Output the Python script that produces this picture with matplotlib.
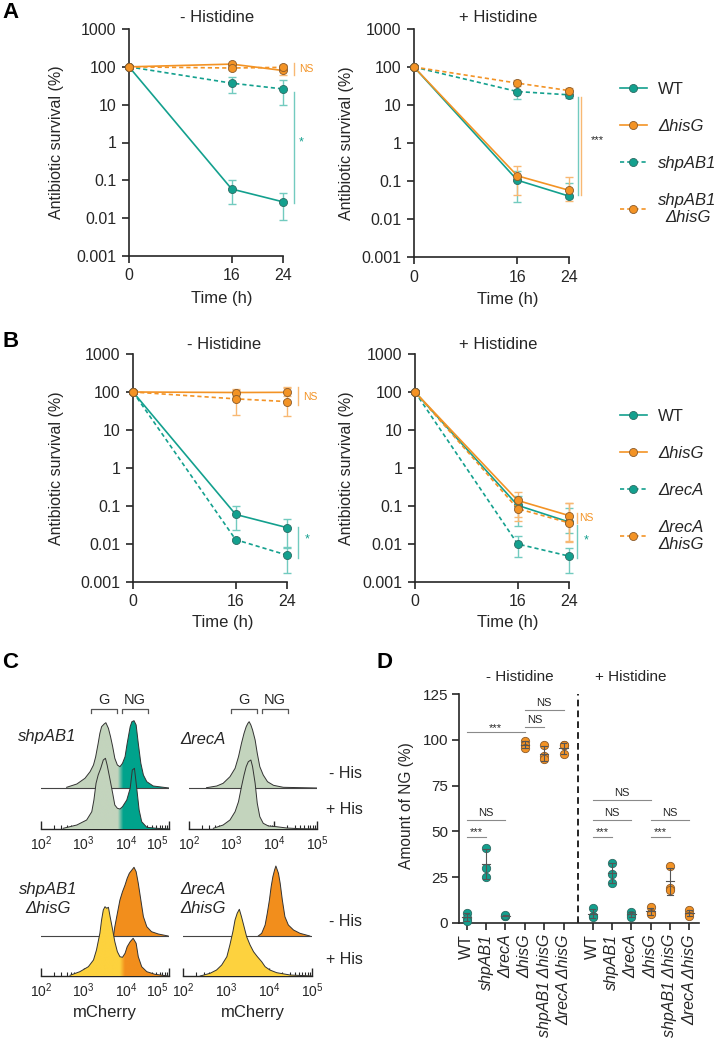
import numpy as np
import matplotlib.pyplot as plt
from matplotlib.colors import LinearSegmentedColormap
from matplotlib.patches import Polygon

plt.rcParams['font.family'] = ['Liberation Sans', 'DejaVu Sans']
plt.rcParams['mathtext.fontset'] = 'custom'
plt.rcParams['mathtext.rm'] = 'Liberation Sans'
plt.rcParams['mathtext.default'] = 'regular'

W, H = 719, 1049
INK = '#262626'
TEAL = '#13a08e'
TEAL_LIGHT = '#72cbbf'
TEAL_EDGE = '#2b6b63'
ORANGE = '#f39325'
ORANGE_LIGHT = '#f8b873'
ORANGE_EDGE = '#8a5a2a'
SAGE = '#c3d4bd'
TEAL_HIST = '#00a38c'
YELLOW = '#fdd23e'
ORANGE_HIST = '#f28e1c'

# ---- survival data (A, B): value, lower bound, upper bound at 0, 16, 24 h
time_h = [0, 16, 24]

a_minus_wt = [100, 0.059, 0.027]
a_minus_wt_lo = [100, 0.023, 0.0087]
a_minus_wt_hi = [100, 0.10, 0.045]
a_minus_his = [100, 118, 80]
a_minus_his_lo = [100, 100, 62]
a_minus_his_hi = [100, 130, 110]
a_minus_shp = [100, 37, 26]
a_minus_shp_lo = [100, 20, 9.6]
a_minus_shp_hi = [100, 54, 44]
a_minus_shphis = [100, 93, 97]
a_minus_shphis_lo = [100, 80, 85]
a_minus_shphis_hi = [100, 108, 110]

a_plus_wt = [100, 0.105, 0.040]
a_plus_wt_lo = [100, 0.028, 0.035]
a_plus_wt_hi = [100, 0.18, 0.09]
a_plus_his = [100, 0.137, 0.057]
a_plus_his_lo = [100, 0.042, 0.030]
a_plus_his_hi = [100, 0.25, 0.125]
a_plus_shp = [100, 22.6, 18.5]
a_plus_shp_lo = [100, 14, 15]
a_plus_shp_hi = [100, 37, 24]
a_plus_shphis = [100, 37.6, 24]
a_plus_shphis_lo = [100, 31, 20]
a_plus_shphis_hi = [100, 46, 28]

b_minus_wt = [100, 0.06, 0.027]
b_minus_wt_lo = [100, 0.023, 0.008]
b_minus_wt_hi = [100, 0.10, 0.046]
b_minus_his = [100, 97, 98]
b_minus_his_lo = [100, 80, 80]
b_minus_his_hi = [100, 120, 125]
b_minus_rec = [100, 0.013, 0.0051]
b_minus_rec_lo = [100, 0.012, 0.0017]
b_minus_rec_hi = [100, 0.014, 0.0084]
b_minus_rechis = [100, 66, 56]
b_minus_rechis_lo = [100, 25, 24]
b_minus_rechis_hi = [100, 115, 135]

b_plus_wt = [100, 0.104, 0.038]
b_plus_wt_lo = [100, 0.03, 0.02]
b_plus_wt_hi = [100, 0.18, 0.09]
b_plus_his = [100, 0.14, 0.056]
b_plus_his_lo = [100, 0.05, 0.012]
b_plus_his_hi = [100, 0.24, 0.12]
b_plus_rec = [100, 0.010, 0.0048]
b_plus_rec_lo = [100, 0.0045, 0.0017]
b_plus_rec_hi = [100, 0.016, 0.0078]
b_plus_rechis = [100, 0.085, 0.036]
b_plus_rechis_lo = [100, 0.04, 0.011]
b_plus_rechis_hi = [100, 0.13, 0.12]

surv_ticks = [0.001, 0.01, 0.1, 1, 10, 100, 1000]
surv_ticklabels = ['0.001', '0.01', '0.1', '1', '10', '100', '1000']

# ---- flow cytometry histograms (C): log10 mCherry, count (a.u.)
c_shp_minus_x = [2.60, 2.84, 3.03, 3.15, 3.23, 3.28, 3.34, 3.38, 3.42, 3.48, 3.52, 3.58, 3.63, 3.68, 3.73, 3.79,
                 3.85, 3.91, 3.97, 4.02, 4.09, 4.13, 4.18, 4.23, 4.28, 4.34, 4.40, 4.48, 4.63, 4.87, 5.0]
c_shp_minus_y = [0.7, 4, 9.7, 16.3, 23, 31, 44.7, 54.7, 61.3, 64, 65.3, 59.7, 51.3, 41.3, 29.7, 23,
                 21.3, 24.7, 31.3, 44.7, 61.3, 66.3, 67.3, 63, 44.7, 24.7, 13, 6.3, 2, 0.7, 0]
c_shp_plus_x = [2.52, 2.84, 3.07, 3.19, 3.24, 3.29, 3.34, 3.40, 3.46, 3.51, 3.55, 3.62, 3.68, 3.73, 3.79, 3.85,
                3.91, 4.01, 4.09, 4.14, 4.19, 4.24, 4.30, 4.36, 4.48, 4.71, 5.0]
c_shp_plus_y = [0.7, 4, 9, 17.3, 29, 45.7, 54, 60.7, 69, 70.7, 64, 49, 35.7, 24, 20.7, 20,
                22.3, 29, 40.7, 59, 60.7, 42.3, 19, 7.3, 1.7, 0.7, 0]
c_rec_minus_x = [2.41, 2.65, 2.80, 2.96, 3.08, 3.16, 3.23, 3.29, 3.34, 3.38, 3.41, 3.45, 3.49, 3.55, 3.60, 3.66,
                 3.74, 3.84, 3.98, 4.21, 5.0]
c_rec_minus_y = [0.3, 2, 4.7, 11.3, 19.7, 31.3, 44.7, 54.7, 61.3, 64.7, 66.3, 63, 58, 48, 34.7, 21.3,
                 13, 6.3, 2.7, 0.7, 0]
c_rec_plus_x = [2.57, 2.80, 2.96, 3.08, 3.16, 3.23, 3.29, 3.34, 3.39, 3.45, 3.49, 3.55, 3.60, 3.66, 3.74, 3.86,
                4.05, 4.29, 4.60, 5.0]
c_rec_plus_y = [0.7, 4, 9, 17.3, 27.3, 42.3, 54, 62.3, 67.3, 69, 62.3, 45.7, 25.7, 12.3, 5.7, 3,
                2.3, 1, 0.3, 0]
c_shphis_minus_x = [3.70, 3.73, 3.79, 3.85, 3.91, 3.97, 4.02, 4.07, 4.13, 4.18, 4.23, 4.28, 4.34, 4.40, 4.48,
                    4.59, 4.75, 4.98]
c_shphis_minus_y = [0, 9.3, 22.7, 36, 44.3, 51, 57.7, 62.7, 66, 68.7, 64.3, 52.7, 36, 19.3, 9.3, 4.3, 2, 0]
c_shphis_plus_x = [2.68, 2.91, 3.11, 3.23, 3.30, 3.38, 3.42, 3.46, 3.50, 3.54, 3.58, 3.62, 3.68, 3.73, 3.79,
                   3.85, 3.91, 3.97, 4.02, 4.09, 4.16, 4.23, 4.28, 4.36, 4.48, 4.67, 4.98]
c_shphis_plus_y = [0.7, 4.3, 9.3, 16, 26, 42.7, 56, 66, 69.3, 67.7, 68.7, 59.3, 46, 34.3, 24.3,
                   19.3, 18.7, 22.7, 29.3, 34.3, 37.7, 32.7, 19.3, 9.3, 4.3, 1.7, 0]
c_rechis_minus_x = [3.75, 3.83, 3.91, 3.96, 4.01, 4.05, 4.09, 4.13, 4.16, 4.22, 4.26, 4.31, 4.37, 4.45, 4.57,
                    4.72, 4.95]
c_rechis_minus_y = [0, 2.7, 11, 22.7, 36, 49.3, 59.3, 66, 70, 62.7, 52.7, 36, 19.3, 11, 6, 2.7, 0]
c_rechis_plus_x = [2.40, 2.63, 2.78, 2.90, 3.02, 3.09, 3.16, 3.21, 3.26, 3.31, 3.36, 3.42, 3.48, 3.56, 3.64,
                   3.73, 3.83, 3.91, 4.02, 4.18, 4.49, 5.0]
c_rechis_plus_y = [0, 2.7, 6, 11, 19.3, 31, 44.3, 56, 62.7, 66.7, 59.3, 49.3, 39.3, 31, 24.3,
                   19.3, 14.3, 9.3, 6, 3.3, 1, 0]

# ---- amount of NG (D)
d_labels = ['WT', 'shpAB1', 'ΔrecA', 'ΔhisG', 'shpAB1 ΔhisG', 'ΔrecA ΔhisG',
            'WT', 'shpAB1', 'ΔrecA', 'ΔhisG', 'shpAB1 ΔhisG', 'ΔrecA ΔhisG']
d_values = [[5.5, 3.0, 1.0], [41, 30, 25], [3.8, 4.0, 4.2], [99.5, 97, 95.5], [97, 91, 89.5], [97, 97, 92],
            [8, 4, 3.5], [33, 27, 22], [6, 4.5, 3.5], [8.5, 5.5, 5], [31, 19, 18], [7, 5, 4]]
d_his_mutant = [False, False, False, True, True, True, False, False, False, True, True, True]
# (from, to, height, label)
d_sig = [(0, 1, 47, '***'), (0, 2, 56, 'NS'), (0, 3, 104, '***'), (3, 4, 107, 'NS'), (3, 5, 116, 'NS'),
         (6, 7, 47, '***'), (6, 8, 56, 'NS'), (6, 9, 67, 'NS'), (9, 11, 56, 'NS'), (9, 10, 47, '***')]

fig = plt.figure(figsize=(W / 100, H / 100), dpi=100)


def px_axes(x0, y0, x1, y1):
    return fig.add_axes([x0 / W, 1 - y1 / H, (x1 - x0) / W, (y1 - y0) / H])


def ftext(x, y, s, **kw):
    kw.setdefault('color', INK)
    fig.text(x / W, 1 - y / H, s, **kw)


def survival_panel(box, series, title_xy, title, xlab_xy, ylab_x):
    ax = px_axes(*box)
    handles = []
    for vals, lo, hi, col, light, edge, dashed in series:
        v = np.array(vals)
        err = [v - np.array(lo), np.array(hi) - v]
        ax.errorbar(time_h, v, yerr=err, fmt='none', ecolor=light, elinewidth=1.0,
                    capsize=3, capthick=1.0, clip_on=False, zorder=2)
        ls = (0, (2.5, 1.8)) if dashed else '-'
        ln, = ax.plot(time_h, v, color=col, ls=ls, lw=1.2, marker='o', ms=5.8, mfc=col,
                      mec=edge, mew=0.6, clip_on=False, zorder=3)
        handles.append(ln)
    ax.set_yscale('log')
    ax.set_ylim(1e-3, 1e3)
    ax.set_xlim(0, 24)
    ax.set_yticks(surv_ticks)
    ax.set_yticklabels(surv_ticklabels)
    ax.minorticks_off()
    ax.set_xticks(time_h)
    for s in ['top', 'right']:
        ax.spines[s].set_visible(False)
    for s in ['left', 'bottom']:
        ax.spines[s].set_linewidth(1.2)
        ax.spines[s].set_color(INK)
    ax.tick_params(length=5, width=1.2, labelsize=11.5, pad=4, colors=INK)
    ax.patch.set_alpha(0)
    ftext(title_xy[0], title_xy[1], title, fontsize=12, ha='center', va='center')
    ftext(xlab_xy[0], xlab_xy[1], 'Time (h)', fontsize=12, ha='center', va='center')
    ftext(ylab_x, (box[1] + box[3]) / 2, 'Antibiotic survival (%)', fontsize=11.5,
          rotation=90, ha='center', va='center')
    return ax, handles


def add_legend(ax, handles, labels, top_y):
    leg = ax.legend(handles, labels, loc='upper left', bbox_to_anchor=(620 / W, 1 - top_y / H),
                    bbox_transform=fig.transFigure, frameon=False, fontsize=12, handlelength=1.6,
                    handletextpad=0.7, labelspacing=1.32, borderpad=0, borderaxespad=0)
    for i, t in enumerate(leg.get_texts()):
        t.set_color(INK)
        if i > 0:
            t.set_fontstyle('italic')
        t.set_multialignment('center')


def vbar(ax, x, y0, y1, col):
    ax.plot([x, x], [y0, y1], color=col, lw=1.0, clip_on=False)


# ---------------- Panel A
ax, hs = survival_panel((129, 29, 283, 256), [
    (a_minus_wt, a_minus_wt_lo, a_minus_wt_hi, TEAL, TEAL_LIGHT, TEAL_EDGE, False),
    (a_minus_shp, a_minus_shp_lo, a_minus_shp_hi, TEAL, TEAL_LIGHT, TEAL_EDGE, True),
    (a_minus_his, a_minus_his_lo, a_minus_his_hi, ORANGE, ORANGE_LIGHT, ORANGE_EDGE, False),
    (a_minus_shphis, a_minus_shphis_lo, a_minus_shphis_hi, ORANGE, ORANGE_LIGHT, ORANGE_EDGE, True),
], (217, 18), '- Histidine', (222, 298), 57)
vbar(ax, 25.7, 61, 126, ORANGE_LIGHT)
ax.text(26.5, 87, 'NS', color=ORANGE, fontsize=7.5, va='center')
vbar(ax, 25.7, 0.025, 21, TEAL_LIGHT)
ax.text(26.5, 1.0, '*', color=TEAL, fontsize=9, va='center')

ax, hs = survival_panel((414, 29, 569, 257), [
    (a_plus_wt, a_plus_wt_lo, a_plus_wt_hi, TEAL, TEAL_LIGHT, TEAL_EDGE, False),
    (a_plus_his, a_plus_his_lo, a_plus_his_hi, ORANGE, ORANGE_LIGHT, ORANGE_EDGE, False),
    (a_plus_shp, a_plus_shp_lo, a_plus_shp_hi, TEAL, TEAL_LIGHT, TEAL_EDGE, True),
    (a_plus_shphis, a_plus_shphis_lo, a_plus_shphis_hi, ORANGE, ORANGE_LIGHT, ORANGE_EDGE, True),
], (498, 18), '+ Histidine', (508, 300), 347)
vbar(ax, 25.4, 0.043, 16, TEAL_LIGHT)
vbar(ax, 25.9, 0.043, 16, ORANGE_LIGHT)
ax.text(27.3, 1.2, '***', color=INK, fontsize=8, va='center')
add_legend(ax, hs, ['WT', 'ΔhisG', 'shpAB1', 'shpAB1\nΔhisG'], 82)

# ---------------- Panel B
ax, hs = survival_panel((133, 354, 287, 582), [
    (b_minus_wt, b_minus_wt_lo, b_minus_wt_hi, TEAL, TEAL_LIGHT, TEAL_EDGE, False),
    (b_minus_rec, b_minus_rec_lo, b_minus_rec_hi, TEAL, TEAL_LIGHT, TEAL_EDGE, True),
    (b_minus_his, b_minus_his_lo, b_minus_his_hi, ORANGE, ORANGE_LIGHT, ORANGE_EDGE, False),
    (b_minus_rechis, b_minus_rechis_lo, b_minus_rechis_hi, ORANGE, ORANGE_LIGHT, ORANGE_EDGE, True),
], (224, 345), '- Histidine', (223, 623), 57)
vbar(ax, 25.7, 46, 135, ORANGE_LIGHT)
ax.text(26.5, 74, 'NS', color=ORANGE, fontsize=7.5, va='center')
vbar(ax, 25.7, 0.0043, 0.028, TEAL_LIGHT)
ax.text(26.8, 0.013, '*', color=TEAL, fontsize=9, va='center')

ax, hs = survival_panel((415, 354, 569, 582), [
    (b_plus_wt, b_plus_wt_lo, b_plus_wt_hi, TEAL, TEAL_LIGHT, TEAL_EDGE, False),
    (b_plus_his, b_plus_his_lo, b_plus_his_hi, ORANGE, ORANGE_LIGHT, ORANGE_EDGE, False),
    (b_plus_rec, b_plus_rec_lo, b_plus_rec_hi, TEAL, TEAL_LIGHT, TEAL_EDGE, True),
    (b_plus_rechis, b_plus_rechis_lo, b_plus_rechis_hi, ORANGE, ORANGE_LIGHT, ORANGE_EDGE, True),
], (498, 345), '+ Histidine', (508, 623), 347)
vbar(ax, 25.2, 0.035, 0.066, ORANGE_LIGHT)
ax.text(25.5, 0.048, 'NS', color=ORANGE, fontsize=7.5, va='center')
vbar(ax, 25.2, 0.0043, 0.031, TEAL_LIGHT)
ax.text(26.3, 0.0126, '*', color=TEAL, fontsize=9, va='center')
add_legend(ax, hs, ['WT', 'ΔhisG', 'ΔrecA', 'ΔrecA\nΔhisG'], 409)


# ---------------- Panel C
def draw_curve(ax, lx, h, base, c1, c2, split, z):
    lx = np.asarray(lx, float)
    h = np.asarray(h, float)
    xs = np.r_[lx[0], lx, lx[-1]]
    ys = np.r_[base, base + h, base]
    poly = Polygon(np.column_stack([xs, ys]), closed=True, ec='none',
                   fc=c1 if split is None else 'none', zorder=z)
    ax.add_patch(poly)
    if split is not None:
        xx = np.linspace(2, 5, 400)
        frac = np.clip((xx - split[0]) / (split[1] - split[0]), 0, 1)
        cmap = LinearSegmentedColormap.from_list('grad', [c1, c2])
        im = ax.imshow(frac[None, :], extent=(2, 5, base, base + 90), aspect='auto', cmap=cmap,
                       vmin=0, vmax=1, origin='lower', zorder=z, interpolation='bilinear')
        im.set_clip_path(poly)
    ax.plot(lx, base + h, color='#333333', lw=0.7, zorder=z + 0.1)


def hist_panel(box, minus, plus, offset, ylim, gates=None, left_col=True):
    ax = px_axes(*box)
    draw_curve(ax, minus[0], minus[1], offset, minus[2], minus[3], minus[4], 1)
    ax.plot([2, 5], [offset, offset], color='#444444', lw=0.8, zorder=1.5)
    draw_curve(ax, plus[0], plus[1], 0, plus[2], plus[3], plus[4], 3)
    ax.set_xlim(2, 5)
    ax.set_ylim(0, ylim)
    for s in ['top', 'right', 'left']:
        ax.spines[s].set_visible(False)
    ax.spines['bottom'].set_color(INK)
    ax.spines['bottom'].set_linewidth(1.0)
    ax.set_yticks([])
    ax.set_xticks([2, 3, 4, 5])
    ax.set_xticklabels(['$10^2$', '$10^3$', '$10^4$', '$10^5$'])
    ax.set_xticks([n + np.log10(k) for n in (2, 3, 4) for k in range(2, 10)], minor=True)
    ax.tick_params(axis='x', which='major', direction='in', length=6, width=1.0, labelsize=10,
                   pad=4, colors=INK)
    ax.tick_params(axis='x', which='minor', direction='in', length=3, width=0.8, colors=INK)
    if left_col:
        # the 10^5 label of the left column sits flush against the next panel's 10^2
        ax.get_xticklabels()[-1].set_horizontalalignment('right')
    ax.patch.set_alpha(0)
    if gates:
        for (g0, g1), lab in zip(gates, ['G', 'NG']):
            ax.plot([g0, g0, g1, g1], [116, 120, 120, 116], color='#555555', lw=0.9, clip_on=False)
            ax.text((g0 + g1) / 2, 129, lab, ha='center', va='center', fontsize=10.5, color=INK)
    return ax


hist_panel((41, 695, 169, 829),
           (c_shp_minus_x, c_shp_minus_y, SAGE, TEAL_HIST, (3.80, 3.93)),
           (c_shp_plus_x, c_shp_plus_y, SAGE, TEAL_HIST, (3.80, 3.93)), 41, 134,
           gates=[(3.17, 3.78), (3.90, 4.51)])
hist_panel((189, 695, 317, 829),
           (c_rec_minus_x, c_rec_minus_y, SAGE, SAGE, None),
           (c_rec_plus_x, c_rec_plus_y, SAGE, SAGE, None), 41, 134,
           gates=[(2.98, 3.59), (3.71, 4.32)], left_col=False)
hist_panel((41, 860, 169, 976),
           (c_shphis_minus_x, c_shphis_minus_y, ORANGE_HIST, ORANGE_HIST, None),
           (c_shphis_plus_x, c_shphis_plus_y, YELLOW, ORANGE_HIST, (3.85, 3.97)), 40, 116)
hist_panel((183, 860, 312, 976),
           (c_rechis_minus_x, c_rechis_minus_y, ORANGE_HIST, ORANGE_HIST, None),
           (c_rechis_plus_x, c_rechis_plus_y, YELLOW, YELLOW, None), 40, 116, left_col=False)

ftext(18, 737, 'shpAB1', fontsize=12, style='italic', va='center')
ftext(180, 739, 'ΔrecA', fontsize=12, style='italic', va='center')
ftext(48, 899, 'shpAB1\nΔhisG', fontsize=12, style='italic', ha='center', va='center',
      multialignment='center', linespacing=1.3)
ftext(180, 899, 'ΔrecA\nΔhisG', fontsize=12, style='italic', ha='left', va='center',
      linespacing=1.3)
ftext(329, 773, '- His', fontsize=11.5, va='center')
ftext(326, 810, '+ His', fontsize=11.5, va='center')
ftext(329, 922, '- His', fontsize=11.5, va='center')
ftext(326, 959, '+ His', fontsize=11.5, va='center')
ftext(105, 1012, 'mCherry', fontsize=12, ha='center', va='center')
ftext(253, 1012, 'mCherry', fontsize=12, ha='center', va='center')

# ---------------- Panel D
ax = px_axes(459, 694, 699, 923)
d_pos = [0, 1, 2, 3, 4, 5, 6.5, 7.5, 8.5, 9.5, 10.5, 11.5]
for p, vals, his in zip(d_pos, d_values, d_his_mutant):
    col = ORANGE if his else TEAL
    edge = ORANGE_EDGE if his else TEAL_EDGE
    ax.plot([p] * len(vals), vals, 'o', ms=6, mfc=col, mec=edge, mew=0.6, zorder=3, clip_on=False)
    m = np.mean(vals)
    sd = np.std(vals, ddof=1)
    ax.plot([p, p], [m - sd, m + sd], color='#555555', lw=0.8, zorder=4)
    for yy, hw in [(m - sd, 0.14), (m + sd, 0.14), (m, 0.22)]:
        ax.plot([p - hw, p + hw], [yy, yy], color='#555555', lw=0.8, zorder=4)
for i0, i1, y, lab in d_sig:
    x0, x1 = d_pos[i0], d_pos[i1]
    ax.plot([x0, x1], [y, y], color='#8a8a8a', lw=0.8)
    if lab == 'NS':
        ax.text((x0 + x1) / 2, y + 1.2, lab, ha='center', va='bottom', fontsize=8, color=INK)
    else:
        ax.text((x0 + x1) / 2, y + 2.6, lab, ha='center', va='center', fontsize=8, color=INK)
ax.axvline(5.75, color='k', lw=1.2, ls=(0, (4, 2.5)))
ax.set_xlim(-0.4, 12.0)
ax.set_ylim(0, 125)
ax.set_yticks([0, 25, 50, 75, 100, 125])
ax.set_xticks(d_pos)
ax.set_xticklabels(d_labels, rotation=90, fontsize=11.5)
for t, lab in zip(ax.get_xticklabels(), d_labels):
    if lab != 'WT':
        t.set_fontstyle('italic')
for s in ['top', 'right']:
    ax.spines[s].set_visible(False)
for s in ['left', 'bottom']:
    ax.spines[s].set_linewidth(1.2)
    ax.spines[s].set_color(INK)
ax.tick_params(length=5, width=1.2, pad=3, colors=INK)
ax.tick_params(axis='y', labelsize=11)
ax.patch.set_alpha(0)
ftext(520, 677, '- Histidine', fontsize=11, ha='center', va='center')
ftext(631, 677, '+ Histidine', fontsize=11, ha='center', va='center')
ftext(407, 806, 'Amount of NG (%)', fontsize=11.2, rotation=90, ha='center', va='center')

# panel letters
for x, y, s in [(2, 13, 'A'), (2, 341, 'B'), (2, 662, 'C'), (377, 662, 'D')]:
    ftext(x, y, s, fontsize=16, fontweight='bold', ha='left', va='center', color='black')

fig.savefig('out.png', dpi=100)
